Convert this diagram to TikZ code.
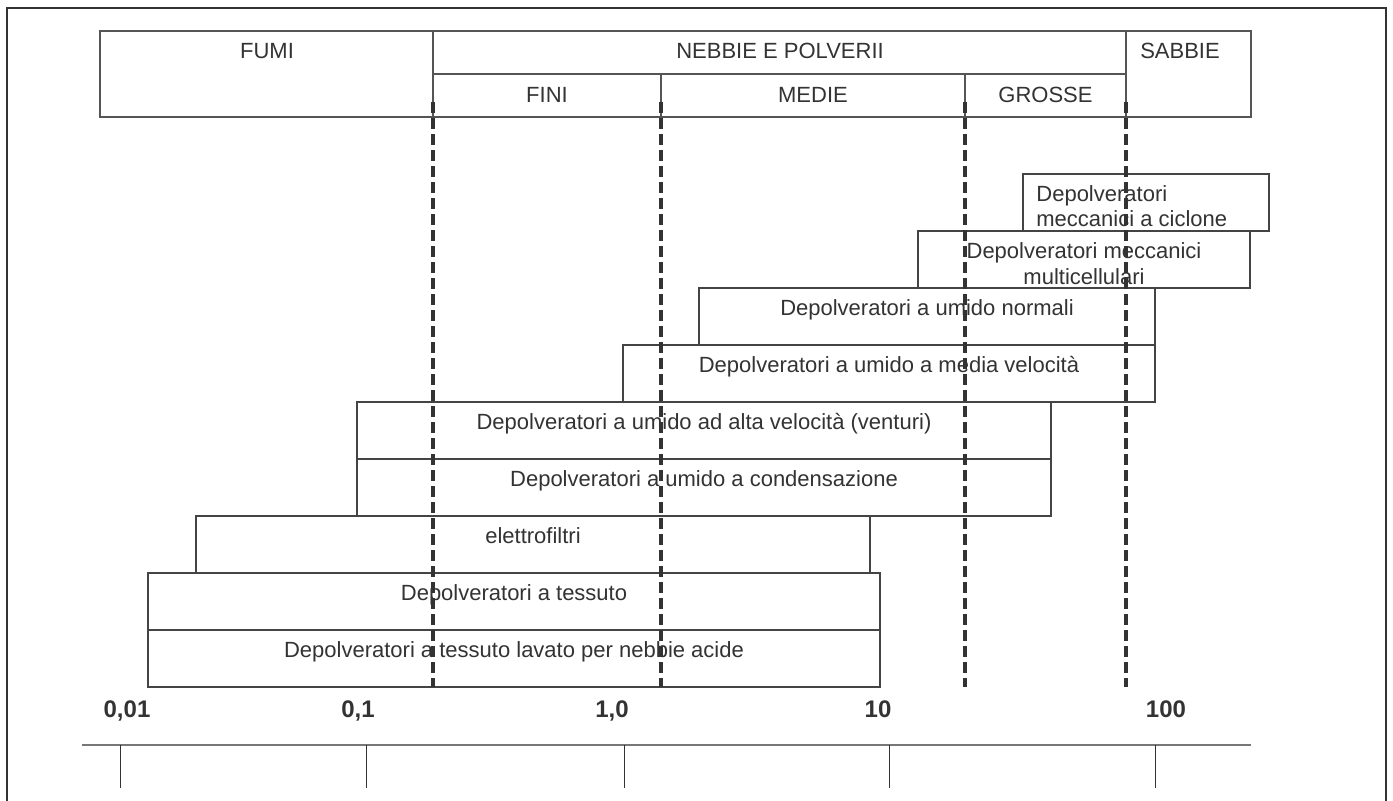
\documentclass[tikz,border=0pt]{standalone}
\usepackage{fontspec}
\setmainfont{Liberation Sans}
\definecolor{framec}{HTML}{333333}
\definecolor{hdrc}{HTML}{555555}
\definecolor{boxc}{HTML}{444444}
\definecolor{txtc}{HTML}{333333}
\definecolor{dashc}{HTML}{333333}
\definecolor{axc}{HTML}{777777}
\definecolor{tickc}{HTML}{333333}
\begin{document}
\begin{tikzpicture}[x=0.5pt,y=-0.5pt,
  txt/.style={inner sep=0pt, text=txtc, anchor=base, font=\fontsize{11}{12.75}\selectfont},
  axl/.style={inner sep=0pt, text=txtc, anchor=base, font=\fontsize{12}{14}\selectfont\bfseries},
  frameline/.style={draw=framec, line width=1.3pt},
  hdr/.style={draw=hdrc, line width=0.6pt},
  bx/.style={draw=boxc, line width=0.55pt},
  dsh/.style={draw=dashc, line width=1.7pt, dash pattern=on 5.5pt off 2.5pt},
  axisline/.style={draw=axc, line width=0.8pt},
  tickline/.style={draw=tickc, line width=0.5pt}]
\useasboundingbox (0,0) rectangle (1393,800);
\fill[white] (0,0) rectangle (1393,800);
% outer frame (open at the bottom)
\draw[frameline] (7,801) -- (7,8) -- (1386,8) -- (1386,801);
% header table
\draw[hdr] (100,31) rectangle (1251,117);
\draw[hdr] (433,31) -- (433,117);
\draw[hdr] (1126,31) -- (1126,117);
\draw[hdr] (433,74) -- (1126,74);
\draw[hdr] (661,74) -- (661,117);
\draw[hdr] (965,74) -- (965,117);
\node[txt] (fumi) at (267,58.5) {FUMI};
\node[txt] (nebbie) at (780,58.5) {NEBBIE E POLVERII};
\node[txt] (sabbie) at (1180,58.5) {SABBIE};
\node[txt] (fini) at (547,102) {FINI};
\node[txt] (medie) at (813,102) {MEDIE};
\node[txt] (grosse) at (1045.5,102) {GROSSE};
% equipment boxes
\draw[bx] (1023,174) rectangle (1269,231);
\draw[bx] (918,231) rectangle (1250,288);
\draw[bx] (699,288) rectangle (1155,345);
\draw[bx] (623,345) rectangle (1155,402);
\draw[bx] (357,402) rectangle (1051,459);
\draw[bx] (357,459) rectangle (1051,516);
\draw[bx] (196,516) rectangle (870,573);
\draw[bx] (148,573) rectangle (880,630);
\draw[bx] (148,630) rectangle (880,687);
\node[txt, anchor=base west, align=left] (ciclone) at (1036,226.5) {Depolveratori\\meccanici a ciclone};
\node[txt, align=center] (multi) at (1084,284) {Depolveratori meccanici\\multicellulari};
\node[txt] (normali) at (927,315) {Depolveratori a umido normali};
\node[txt] (media) at (889,372) {Depolveratori a umido a media velocità};
\node[txt] (venturi) at (704,429) {Depolveratori a umido ad alta velocità (venturi)};
\node[txt] (conden) at (704,486) {Depolveratori a umido a condensazione};
\node[txt] (elettro) at (533,543) {elettrofiltri};
\node[txt] (tessuto) at (514,600) {Depolveratori a tessuto};
\node[txt] (lavato) at (514,657) {Depolveratori a tessuto lavato per nebbie acide};
% dashed class boundaries
\foreach \xx/\nm in {433/da,661/db,965/dc,1126/dd}{
  \coordinate (\nm top) at (\xx,102);
  \coordinate (\nm bot) at (\xx,687);
  \draw[dsh] (\nm top) -- (\nm bot);
}
% axis labels
\node[axl] (l001) at (127,717) {0,01};
\node[axl] (l01) at (358,717) {0,1};
\node[axl] (l1) at (612,717) {1,0};
\node[axl] (l10) at (878,717) {10};
\node[axl] (l100) at (1166,717) {100};
% axis
\coordinate (axL) at (82,745);
\coordinate (axR) at (1251,745);
\draw[axisline] (axL) -- (axR);
\foreach \xx/\nm in {120/ta,366/tb,624/tc,889/td,1155/te}{
  \coordinate (\nm top) at (\xx,745);
  \coordinate (\nm bot) at (\xx,788);
  \draw[tickline] (\nm top) -- (\nm bot);
}
\end{tikzpicture}
\end{document}
